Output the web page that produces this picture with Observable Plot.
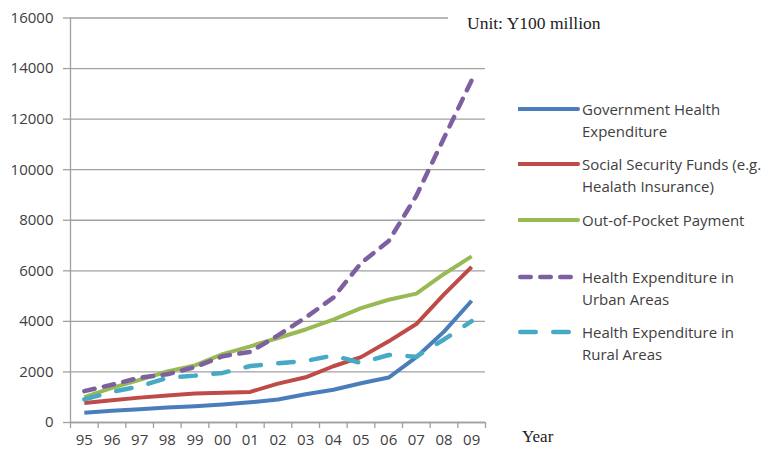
<!DOCTYPE html>
<html>
<head>
<meta charset="utf-8">
<script src="https://cdn.jsdelivr.net/npm/d3@7"></script>
<script src="https://cdn.jsdelivr.net/npm/@observablehq/plot@0.6"></script>
<style>
  body { margin: 0; background: #fff; }
  #chart { position: relative; width: 770px; height: 449px; overflow: hidden; font-family: "Open Sans", sans-serif; }
  #chart svg.plot { position: absolute; left: 0; top: 0; }
  .unit { position: absolute; left: 448px; top: 12px; padding-left: 19px; padding-right: 6px; background: #fff;
          font-family: "Liberation Serif", serif; font-size: 17.5px; line-height: 22px; color: #222; }
  .year { position: absolute; left: 522px; top: 427px; font-family: "Liberation Serif", serif; font-size: 17px; line-height: 20px; color: #222; }
  .key { position: absolute; left: 518px; }
  .key svg { position: absolute; left: 0; }
  .key div { position: absolute; left: 64px; width: 190px; font-size: 15px; line-height: 22.5px; color: #404040; white-space: nowrap; }
</style>
</head>
<body>
<div id="chart"></div>
<script>
// Health financing in China, 1995–2009 (Y100 million)
const years = ["95", "96", "97", "98", "99", "00", "01", "02", "03", "04", "05", "06", "07", "08", "09"];
const government = [387, 462, 524, 590, 641, 710, 801, 909, 1117, 1294, 1553, 1779, 2582, 3594, 4816];
const socialSecurity = [768, 876, 984, 1071, 1146, 1172, 1211, 1539, 1789, 2225, 2586, 3211, 3894, 5066, 6154];
const outOfPocket = [1000, 1372, 1689, 2018, 2261, 2705, 3014, 3342, 3679, 4071, 4521, 4854, 5099, 5876, 6571];
const urban = [1240, 1495, 1771, 1907, 2193, 2624, 2793, 3448, 4150, 4939, 6306, 7175, 8969, 11252, 13536];
const rural = [916, 1215, 1425, 1772, 1854, 1962, 2233, 2342, 2434, 2651, 2354, 2669, 2605, 3284, 4006];
const yTicks = [0, 2000, 4000, 6000, 8000, 10000, 12000, 14000, 16000];

const seriesNames = [
  "Government Health\nExpenditure",
  "Social Security Funds (e.g.\nHealath Insurance)",
  "Out-of-Pocket Payment",
  "Health Expenditure in\nUrban Areas",
  "Health Expenditure in\nRural Areas"
];
const seriesValues = [government, socialSecurity, outOfPocket, urban, rural];
const seriesColors = ["#4a7ebb", "#be4b48", "#98b954", "#7d60a0", "#46aac5"];
const seriesDash = [null, null, null, "10.5,9.5", "15.5,17.5"];

const rows = seriesValues.flatMap((vals, s) => vals.map((v, i) => ({s, i, v})));

const axisGray = "#a0a0a0";
const textGray = "#404040";
const slots = d3.range(years.length);
const edges = d3.range(-0.5, years.length, 1);

const lineMarks = seriesValues.map((_, s) =>
  Plot.line(rows.filter(d => d.s === s), {
    x: "i", y: "v",
    stroke: seriesColors[s],
    strokeWidth: s < 3 ? 4 : 4.5,
    strokeLinecap: s < 3 ? "butt" : "round",
    strokeLinejoin: "round",
    strokeDasharray: seriesDash[s]
  })
);

const plot = Plot.plot({
  width: 770,
  height: 449,
  marginLeft: 70,
  marginRight: 285,
  marginTop: 17.5,
  marginBottom: 27,
  style: {fontFamily: "'Open Sans', sans-serif", background: "transparent"},
  x: {type: "linear", domain: [edges[0], edges[edges.length - 1]]},
  y: {domain: [yTicks[0], yTicks[yTicks.length - 1]]},
  marks: [
    Plot.gridY(yTicks, {stroke: axisGray, strokeOpacity: 1, strokeWidth: 1.3}),
    Plot.axisY(yTicks, {tickSize: 7, tickPadding: 10, stroke: axisGray, strokeWidth: 1.3, fill: textGray, fontSize: 15, label: null, tickFormat: d => String(d)}),
    Plot.axisX(edges, {tickSize: 6, stroke: axisGray, strokeWidth: 1.3, tickFormat: () => "", label: null}),
    Plot.axisX(slots, {tickSize: 0, tickPadding: 12, fill: textGray, fontSize: 15, tickFormat: i => years[i], label: null}),
    Plot.ruleY([yTicks[0]], {stroke: axisGray, strokeWidth: 1.3}),
    Plot.ruleX([edges[0]], {stroke: axisGray, strokeWidth: 1.3}),
    ...lineMarks
  ]
});

const chart = document.getElementById("chart");
chart.appendChild(plot);

// Unit note (its white box hides the end of the top gridline)
const unit = document.createElement("div");
unit.className = "unit";
unit.textContent = "Unit: Y100 million";
chart.appendChild(unit);

const yearLabel = document.createElement("div");
yearLabel.className = "year";
yearLabel.textContent = "Year";
chart.appendChild(yearLabel);

// Legend
const keyRows = [109, 164, 220, 277, 332];
seriesNames.forEach((name, s) => {
  const key = document.createElement("div");
  key.className = "key";
  key.style.top = (keyRows[s] - 11.25) + "px";
  const sw = d3.create("svg").attr("width", 62).attr("height", 12).style("top", "5.25px");
  const dashed = seriesDash[s] != null;
  sw.append("line")
    .attr("x1", dashed ? 2.25 : 0)
    .attr("x2", s === 3 ? 52.75 : s === 4 ? 50.75 : 60)
    .attr("y1", 6).attr("y2", 6)
    .attr("stroke", seriesColors[s])
    .attr("stroke-width", dashed ? 4.5 : 4)
    .attr("stroke-linecap", "round")
    .attr("stroke-dasharray", seriesDash[s]);
  key.appendChild(sw.node());
  const label = document.createElement("div");
  label.innerHTML = name.split("\n").join("<br>");
  key.appendChild(label);
  chart.appendChild(key);
});
</script>
</body>
</html>
